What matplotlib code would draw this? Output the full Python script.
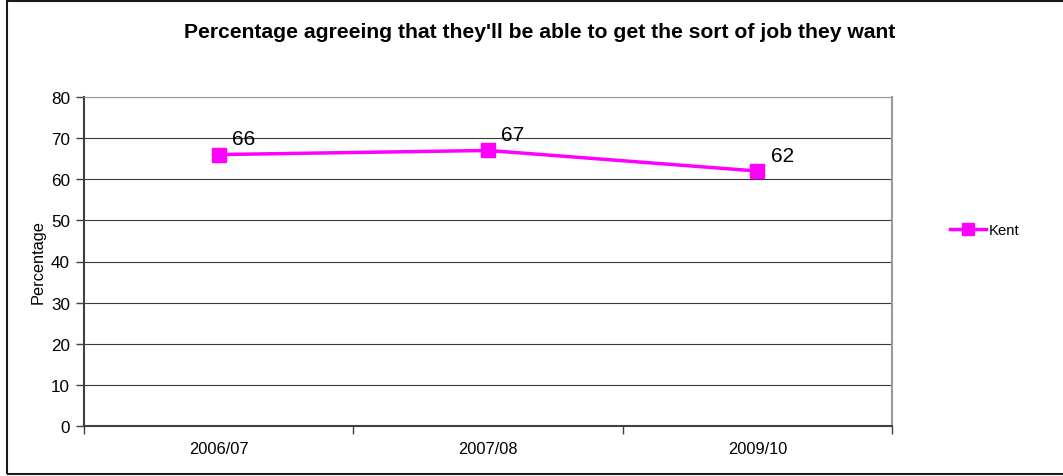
import matplotlib.pyplot as plt
from matplotlib.patches import Rectangle

plt.rcParams['font.family'] = ['Liberation Sans', 'DejaVu Sans']

# data
years = ['2006/07', '2007/08', '2009/10']
kent = [66, 67, 62]
series_name = 'Kent'
title = "Percentage agreeing that they'll be able to get the sort of job they want"

W, H = 1063, 477
fig = plt.figure(figsize=(W / 100, H / 100), dpi=100)

# outer chart border
fig.patches.append(Rectangle((7 / W, 2 / H), 1.2, (475 - 2) / H, transform=fig.transFigure,
                             fill=False, edgecolor='#1a1a1a', linewidth=1.5, zorder=0))

ax = fig.add_axes([84 / W, (H - 427) / H, (892 - 84) / W, (427 - 98) / H])
x = list(range(len(years)))
ax.plot(x, kent, color='#ff00ff', linewidth=2.5, marker='s', markersize=10,
        label=series_name, clip_on=False, zorder=3)
for xi, v in zip(x, kent):
    ax.annotate(str(v), (xi, v), xytext=(25, 16), textcoords='offset pixels',
                ha='center', va='center', fontsize=15)

ax.set_xlim(-0.5, len(years) - 0.5)
ax.set_ylim(0, 80)
ax.set_yticks(range(0, 81, 10))
ax.set_xticks(x)
ax.set_xticklabels(years, fontsize=11.8)
ax.set_xticks([i - 0.5 for i in range(len(years) + 1)], minor=True)
ax.tick_params(axis='x', which='major', length=0, pad=11)
ax.tick_params(axis='x', which='minor', length=6, width=1, color='#404040', direction='out')
ax.tick_params(axis='y', labelsize=12.3, length=6, width=1, color='#404040', pad=4)
ax.yaxis.grid(True, color='#3a3a3a', linewidth=0.8)
ax.set_axisbelow(True)
ax.set_ylabel('Percentage', fontsize=11.8, labelpad=4)

ax.spines['left'].set_color('#404040')
ax.spines['left'].set_linewidth(1.5)
ax.spines['bottom'].set_color('#404040')
ax.spines['bottom'].set_linewidth(1.5)
ax.spines['top'].set_color('#999999')
ax.spines['right'].set_color('#999999')
ax.spines['right'].set_linewidth(1.5)

fig.text(540 / W, 1 - 32 / H, title, ha='center', va='center', fontsize=15.2, fontweight='bold')

fig.legend(loc='center left', bbox_to_anchor=(937 / W, 1 - 231 / H), frameon=False,
           fontsize=10.7, handlelength=2.4, handletextpad=0.2, markerscale=0.8)

fig.savefig('out.png', dpi=100)
